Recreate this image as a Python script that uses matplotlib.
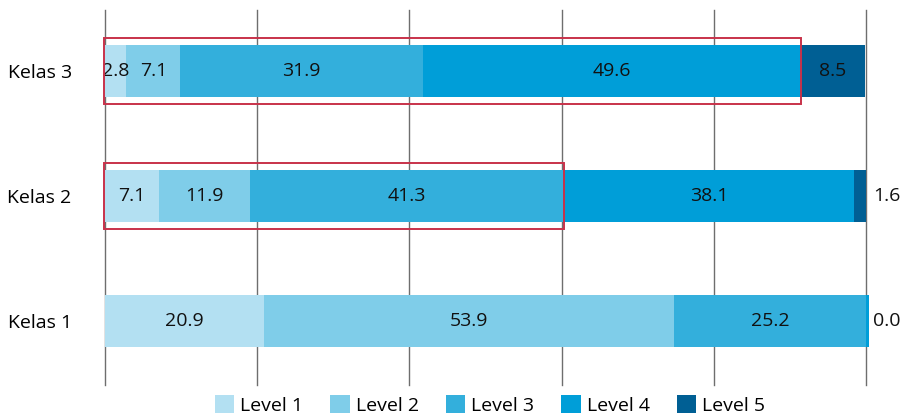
import matplotlib
matplotlib.use("Agg")
import matplotlib.pyplot as plt
from matplotlib.patches import Rectangle

plt.rcParams['font.family'] = ['Open Sans', 'DejaVu Sans']

categories = ["Kelas 1", "Kelas 2", "Kelas 3"]
levels = ["Level 1", "Level 2", "Level 3", "Level 4", "Level 5"]
level1 = [20.9, 7.1, 2.8]
level2 = [53.9, 11.9, 7.1]
level3 = [25.2, 41.3, 31.9]
level4 = [0.4, 38.1, 49.6]
level5 = [0.0, 1.6, 8.5]
series = [level1, level2, level3, level4, level5]
colors = ["#b3e0f2", "#7fcde9", "#33afdc", "#009ed8", "#005f94"]
# number of leading levels enclosed by red box per category (0 = none)
highlight_levels = [0, 3, 4]

fig = plt.figure(figsize=(9.02, 4.18), dpi=100)
ax = fig.add_axes([105/902, 1-385/418, (866-105)/902, (385-10)/418])

fs = 14
y = list(range(len(categories)))
left = [0.0]*len(categories)
bar_h = 0.416
for li, (vals, col) in enumerate(zip(series, colors)):
    ax.barh(y, vals, left=left, height=bar_h, color=col, label=levels[li], zorder=2, clip_on=False)
    for i, v in enumerate(vals):
        end = left[i] + v
        if li == 4 and end >= 99.9 and v < 5:
            ax.text(100.9, y[i], f"{v:.1f}", va='center', ha='left', fontsize=fs, color='#111111', zorder=3)
        elif v >= 1:
            ax.text(left[i] + v/2, y[i], f"{v:.1f}", va='center', ha='center', fontsize=fs, color='#111111', zorder=3)
    left = [l + v for l, v in zip(left, vals)]

# red highlight boxes
for i, n in enumerate(highlight_levels):
    if n > 0:
        w = sum(s[i] for s in series[:n])
        ax.add_patch(Rectangle((-0.1, y[i]-0.265), w+0.1, 0.53, fill=False,
                               edgecolor='#c8324a', linewidth=1.4, zorder=4, clip_on=False))

ax.set_xlim(0, 100)
ax.set_ylim(-0.51, 2.49)
ax.set_xticks([0, 20, 40, 60, 80, 100])
ax.xaxis.grid(True, color='#6e6e6e', linewidth=1.0, zorder=1)
for gl in ax.get_xgridlines():
    gl.set_clip_on(False)
ax.tick_params(axis='x', length=0, labelbottom=False)
ax.set_yticks(y)
ax.set_yticklabels(categories, fontsize=fs)
ax.tick_params(axis='y', length=0, pad=24)
for s in ax.spines.values():
    s.set_visible(False)

leg = fig.legend(loc='center', bbox_to_anchor=(490/902, 1-405/418), ncol=5, frameon=False,
                 fontsize=fs, handlelength=1.0, handleheight=1.0, handletextpad=0.3,
                 columnspacing=1.4, borderaxespad=0)

fig.savefig("out.png", dpi=100)
